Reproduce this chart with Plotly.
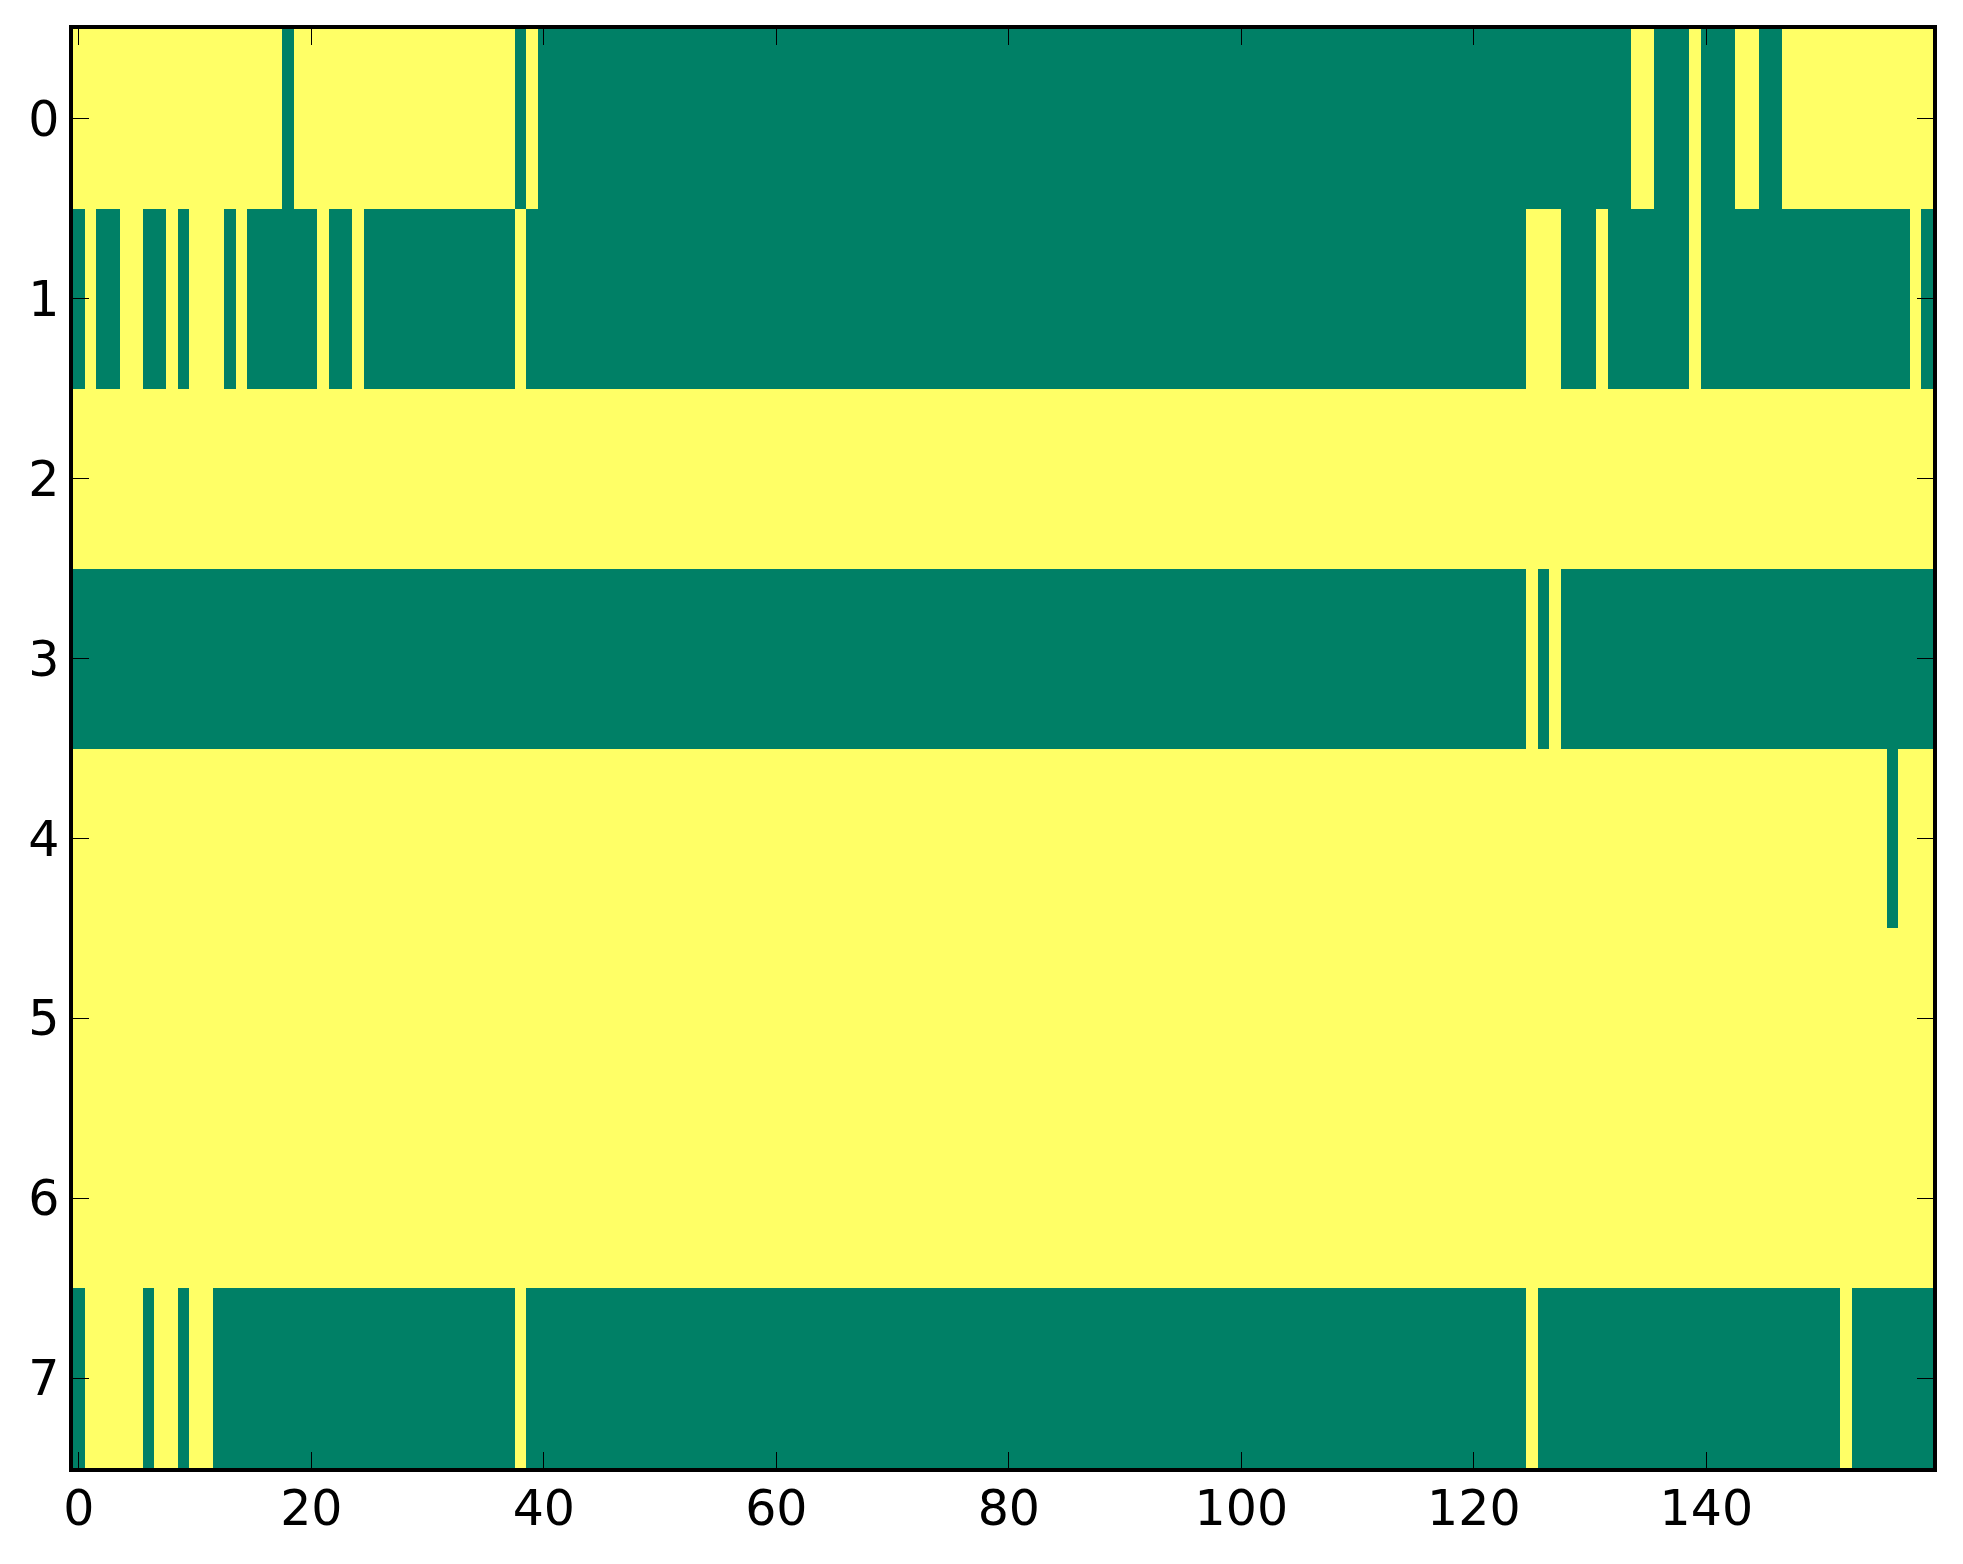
import plotly.graph_objects as go

# Run-length encoded rows: (value, count); 1 = yellow, 0 = green
row0_runs = [(1, 18), (0, 1), (1, 19), (0, 1), (1, 1), (0, 94), (1, 2), (0, 3), (1, 1), (0, 3), (1, 2), (0, 2), (1, 13)]
row1_runs = [(0, 1), (1, 1), (0, 2), (1, 2), (0, 2), (1, 1), (0, 1), (1, 3), (0, 1), (1, 1), (0, 6), (1, 1), (0, 2), (1, 1),
             (0, 13), (1, 1), (0, 86), (1, 3), (0, 3), (1, 1), (0, 7), (1, 1), (0, 18), (1, 1), (0, 1)]
row2_runs = [(1, 160)]
row3_runs = [(0, 125), (1, 1), (0, 1), (1, 1), (0, 32)]
row4_runs = [(1, 156), (0, 1), (1, 3)]
row5_runs = [(1, 160)]
row6_runs = [(1, 160)]
row7_runs = [(0, 1), (1, 5), (0, 1), (1, 2), (0, 1), (1, 2), (0, 26), (1, 1), (0, 86), (1, 1), (0, 26), (1, 1), (0, 7)]

x_ticks = [0, 20, 40, 60, 80, 100, 120, 140]
y_ticks = [0, 1, 2, 3, 4, 5, 6, 7]


def expand(runs):
    out = []
    for v, n in runs:
        out.extend([v] * n)
    return out


rows = [row0_runs, row1_runs, row2_runs, row3_runs, row4_runs, row5_runs, row6_runs, row7_runs]
z = [expand(r) for r in rows]
ncols = len(z[0])

fig = go.Figure(go.Heatmap(
    z=z,
    x=list(range(ncols)),
    y=list(range(len(z))),
    colorscale=[[0, '#008066'], [1, '#ffff66']],
    zmin=0, zmax=1,
    showscale=False,
    hoverinfo='skip',
))

axis_common = dict(
    showline=True, linecolor='black', linewidth=3.5, mirror='allticks',
    ticks='inside', ticklen=16, tickwidth=1.4, tickcolor='black',
    showgrid=False, zeroline=False,
    tickfont=dict(family='DejaVu Sans', size=49, color='black'),
)

fig.update_xaxes(range=[-0.5, ncols - 0.5], tickmode='array', tickvals=x_ticks,
                 ticklabelstandoff=-6, **axis_common)
fig.update_yaxes(range=[len(z) - 0.5, -0.5], tickmode='array', tickvals=y_ticks,
                 ticklabelstandoff=0, **axis_common)

# The page body has an 8px default margin; compensate so the plot lands where it should
fig.update_layout(
    width=1955, height=1556,
    margin=dict(l=65, r=30, t=21, b=96, pad=0),
    paper_bgcolor='white', plot_bgcolor='white',
)

fig.write_html("out.html")
